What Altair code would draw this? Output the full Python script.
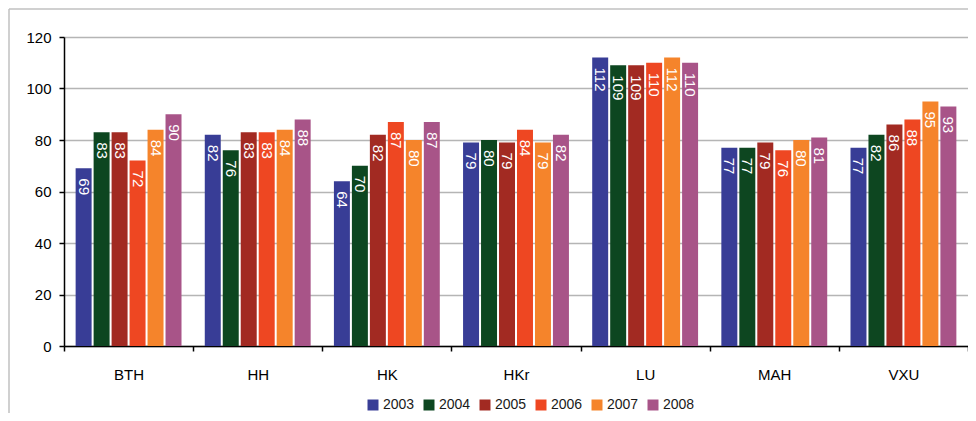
import altair as alt
import pandas as pd

sites = ["BTH", "HH", "HK", "HKr", "LU", "MAH", "VXU"]
years = ["2003", "2004", "2005", "2006", "2007", "2008"]
v2003 = [69, 82, 64, 79, 112, 77, 77]
v2004 = [83, 76, 70, 80, 109, 77, 82]
v2005 = [83, 83, 82, 79, 109, 79, 86]
v2006 = [72, 83, 87, 84, 110, 76, 88]
v2007 = [84, 84, 80, 79, 112, 80, 95]
v2008 = [90, 88, 87, 82, 110, 81, 93]
colors = ["#383D96", "#0D4620", "#A22A22", "#EE4722", "#F5842B", "#A85488"]
y_ticks = [0, 20, 40, 60, 80, 100, 120]

series = [v2003, v2004, v2005, v2006, v2007, v2008]
rows = []
for yr, vals in zip(years, series):
    for s, v in zip(sites, vals):
        rows.append({"site": s, "year": yr, "value": v})
df = pd.DataFrame(rows)

FONT = "Liberation Sans"

base = alt.Chart(df).encode(
    x=alt.X(
        "site:N",
        sort=sites,
        scale=alt.Scale(paddingInner=0, paddingOuter=0),
        axis=alt.Axis(
            title=None, labelAngle=0, tickBand="extent", ticks=True, tickSize=5,
            labelPadding=16, labelFontSize=15, labelFont=FONT, labelColor="#000000",
            domainColor="#000000", domainWidth=1.5, tickColor="#000000", tickWidth=1.5,
            grid=False,
        ),
    ),
    xOffset=alt.XOffset(
        "year:N", sort=years,
        scale=alt.Scale(paddingInner=0.111, paddingOuter=0.647),
    ),
)

bars = base.mark_bar().encode(
    y=alt.Y(
        "value:Q",
        scale=alt.Scale(domain=[0, 120], nice=False),
        axis=alt.Axis(
            title=None, values=y_ticks, tickSize=5, labelPadding=8,
            labelFontSize=15, labelFont=FONT, labelColor="#000000",
            domainColor="#000000", domainWidth=1.5, tickColor="#000000", tickWidth=1.5,
            grid=True, gridColor="#b5b5b5", gridWidth=1.5,
        ),
    ),
    color=alt.Color(
        "year:N",
        sort=years,
        scale=alt.Scale(domain=years, range=colors),
        legend=alt.Legend(
            title=None, orient="none", direction="horizontal", legendX=302, legendY=361,
            symbolType="square", symbolSize=121, symbolStrokeWidth=0,
            labelFontSize=14, labelFont=FONT, labelColor="#1a1a1a",
            labelOffset=3, columnPadding=7, padding=0,
        ),
    ),
)

labels = base.mark_text(
    angle=90, align="left", baseline="middle", dx=10, color="white",
    fontSize=15, font=FONT,
).encode(y=alt.Y("value:Q"), text=alt.Text("value:Q"))

frame_df = pd.DataFrame({"k": [0]})
frame_left = alt.Chart(frame_df).mark_rule(color="#c0c0c0", strokeWidth=1.5).encode(
    x=alt.value(-55), y=alt.value(-28), y2=alt.value(390)
)
frame_top = alt.Chart(frame_df).mark_rule(color="#c0c0c0", strokeWidth=1.5).encode(
    x=alt.value(-55), x2=alt.value(904), y=alt.value(-28)
)

chart = alt.layer(frame_left, frame_top, bars, labels).properties(
    width=904,
    height=309,
    padding={"left": 56, "top": 29, "right": 0, "bottom": 67},
    autosize=alt.AutoSizeParams(type="none"),
).configure_view(stroke=None)

chart.save("out.html", embed_options={"renderer": "svg", "actions": False})
